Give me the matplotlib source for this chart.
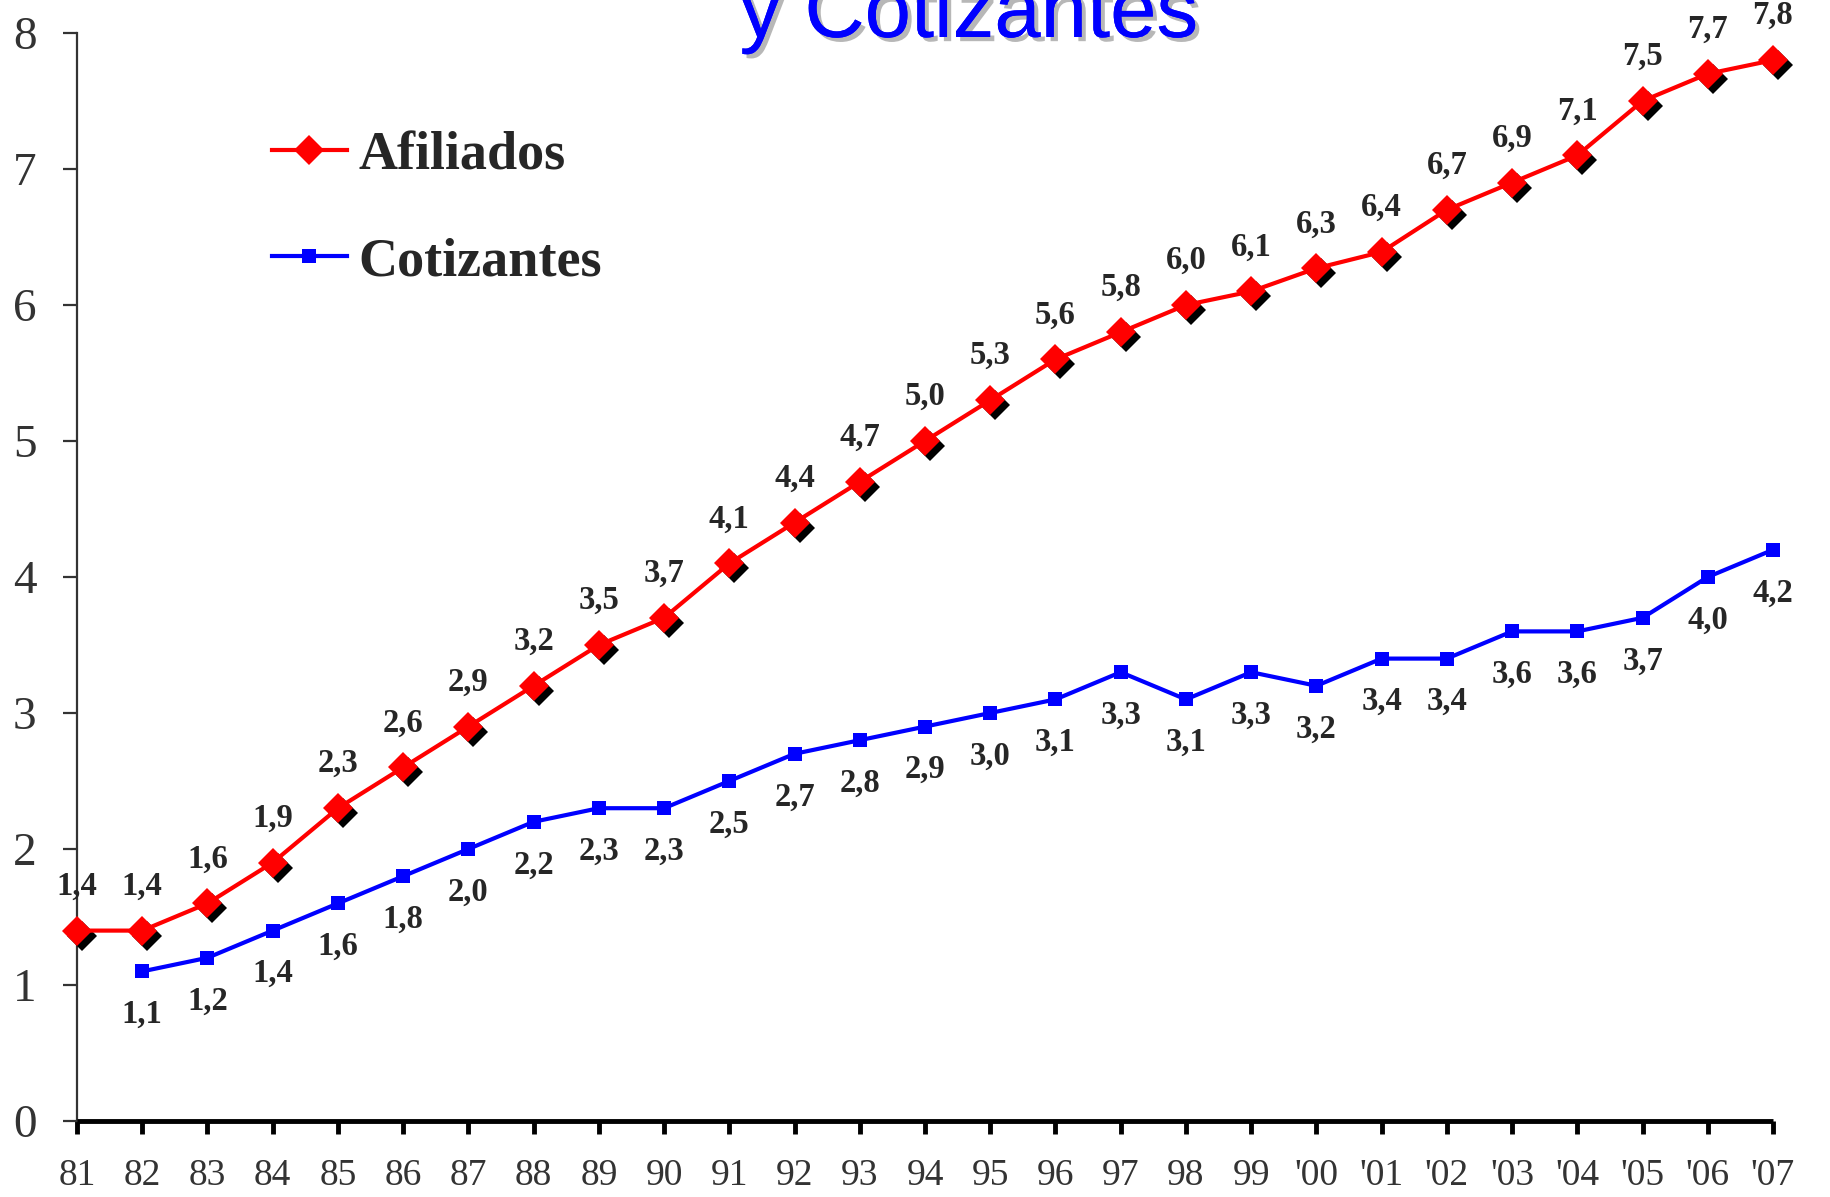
import matplotlib
matplotlib.use('Agg')
import matplotlib.pyplot as plt
import matplotlib.transforms as mtransforms
import matplotlib.patheffects as pe
import numpy as np

years = ['81', '82', '83', '84', '85', '86', '87', '88', '89', '90', '91', '92', '93', '94',
         '95', '96', '97', '98', '99', "'00", "'01", "'02", "'03", "'04", "'05", "'06", "'07"]
afiliados = [1.4, 1.4, 1.6, 1.9, 2.3, 2.6, 2.9, 3.2, 3.5, 3.7, 4.1, 4.4, 4.7, 5.0, 5.3, 5.6,
             5.8, 6.0, 6.1, 6.27, 6.39, 6.7, 6.9, 7.1, 7.5, 7.7, 7.8]
cotizantes_years = years[1:]
cotizantes = [1.1, 1.2, 1.4, 1.6, 1.8, 2.0, 2.2, 2.3, 2.3, 2.5, 2.7, 2.8, 2.9, 3.0, 3.1,
              3.3, 3.1, 3.3, 3.2, 3.4, 3.4, 3.6, 3.6, 3.7, 4.0, 4.2]
yticks = [0, 1, 2, 3, 4, 5, 6, 7, 8]
title_text = "y Cotizantes"

W, H = 1831, 1197
fig = plt.figure(figsize=(W / 100, H / 100), dpi=100)
ax = fig.add_axes([77 / W, 1 - 1121 / H, (1773 - 77) / W, (1121 - 33) / H])

x_af = np.arange(len(years))
x_co = np.array([years.index(y) for y in cotizantes_years])

serif = ['Liberation Serif', 'DejaVu Serif']
label_color = '#262626'

# shadow for diamonds
shadow = ax.transData + mtransforms.ScaledTranslation(3.6 / 72, -3.6 / 72, fig.dpi_scale_trans)
ax.plot(x_af, afiliados, linestyle='none', marker='D', markersize=15, color='black',
        markeredgewidth=0, transform=shadow, clip_on=False, zorder=3)
ax.plot(x_af, afiliados, color='#ff0000', lw=3, marker='D', markersize=15,
        markeredgewidth=0, clip_on=False, zorder=4, label='Afiliados')
ax.plot(x_co, cotizantes, color='#0000ff', lw=3, marker='s', markersize=10,
        markeredgewidth=0, clip_on=False, zorder=4, label='Cotizantes')

for xi, v in zip(x_af, afiliados):
    ax.annotate(f"{v:.1f}".replace('.', ','), (xi, v), xytext=(0, 32), textcoords='offset points',
                ha='center', va='center', fontsize=23.5, fontweight='bold', family=serif,
                color=label_color, annotation_clip=False, zorder=5)
for xi, v in zip(x_co, cotizantes):
    ax.annotate(f"{v:.1f}".replace('.', ','), (xi, v), xytext=(0, -31), textcoords='offset points',
                ha='center', va='center', fontsize=23.5, fontweight='bold', family=serif,
                color=label_color, annotation_clip=False, zorder=5)

ax.set_xlim(0, len(years) - 1)
ax.set_ylim(0, 8)
ax.set_xticks(x_af)
ax.set_xticklabels(years, family=serif, fontsize=27, color='#333333')
ax.set_yticks(yticks)
ax.set_yticklabels([str(t) for t in yticks], family=serif, fontsize=34, color='#333333')

for s in ['top', 'right']:
    ax.spines[s].set_visible(False)
ax.spines['left'].set_color('#333333')
ax.spines['left'].set_linewidth(1.6)
ax.spines['bottom'].set_color('black')
ax.spines['bottom'].set_linewidth(3.5)
ax.spines['bottom'].set_capstyle('butt')
ax.tick_params(axis='y', direction='out', length=10, width=1.6, color='#333333', pad=19)
ax.tick_params(axis='x', direction='out', length=9, width=3.5, color='black', pad=18)

leg = ax.legend(loc='upper left', bbox_to_anchor=(272 / W, 1 - 131 / H), bbox_transform=fig.transFigure,
                frameon=False, borderpad=0, borderaxespad=0, handlelength=1.38, handletextpad=0.22,
                labelspacing=1.04, prop={'family': serif, 'weight': 'bold', 'size': 39})
for t in leg.get_texts():
    t.set_color('#262626')

fig.text(969 / W, 1 - 37 / H, title_text, ha='center', va='baseline', fontsize=60,
         family=['Liberation Sans', 'DejaVu Sans'], color='#0000ff',
         path_effects=[pe.withSimplePatchShadow(offset=(3, -3), shadow_rgbFace='#888888', alpha=0.6),
                       pe.Normal()])

fig.savefig('out.png', dpi=100)
